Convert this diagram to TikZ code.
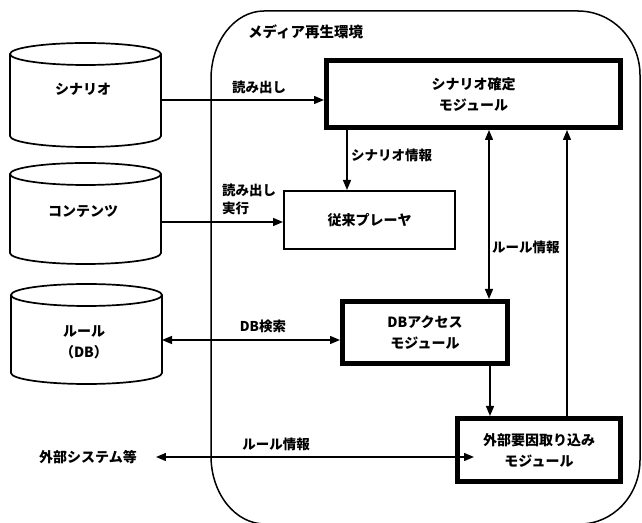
\documentclass[tikz,border=0pt]{standalone}
\usepackage{fontspec}
\setmainfont{Noto Sans CJK JP}
\usetikzlibrary{arrows.meta}
\begin{document}
\begin{tikzpicture}[x=1pt,y=1pt,
  ln/.style={line width=1.4pt},
  arr/.style={ln,-{Triangle[length=10pt,width=8pt]}},
  dbl/.style={ln,{Triangle[length=10pt,width=8pt]}-{Triangle[length=10pt,width=8pt]}},
  cyl/.style={line width=1.7pt},
  lbl/.style={font=\fontsize{13.5}{18}\selectfont\bfseries, inner sep=0pt},
  boxtxt/.style={font=\fontsize{14}{21}\selectfont\bfseries, align=center},
  thickbox/.style={draw, line width=5pt, inner sep=0pt, boxtxt},
  thinbox/.style={draw, line width=2pt, inner sep=0pt, boxtxt}]
\useasboundingbox (0,0) rectangle (642,522);
\clip (0,0) rectangle (642,522);

% environment
\draw[line width=1.5pt] (211,443) -- (211,66)
  arc[start angle=180,end angle=270,x radius=54pt,y radius=68pt] -- (580,-2)
  arc[start angle=270,end angle=360,x radius=60pt,y radius=64pt] -- (640,447)
  arc[start angle=0,end angle=90,x radius=62pt,y radius=64pt] -- (264,511)
  arc[start angle=90,end angle=180,x radius=53pt,y radius=68pt] -- cycle;
\node[lbl, font=\fontsize{14.5}{18}\selectfont\bfseries, anchor=west] (envl) at (248,490) {メディア再生環境};

% cylinders
\draw[cyl] (85.5,468) ellipse[x radius=75.5pt,y radius=11pt];
\draw[cyl] (10,468) -- (10,386) arc[start angle=180,end angle=360,x radius=75.5pt,y radius=11pt] -- (161,468);
\node[boxtxt] (cs) at (83,433) {シナリオ};

\draw[cyl] (85.5,348) ellipse[x radius=75.5pt,y radius=11pt];
\draw[cyl] (10,348) -- (10,269) arc[start angle=180,end angle=360,x radius=75.5pt,y radius=11pt] -- (161,348);
\node[boxtxt] (cc) at (83,311) {コンテンツ};

\draw[cyl] (86.5,227) ellipse[x radius=75.5pt,y radius=11pt];
\draw[cyl] (11,227) -- (11,149) arc[start angle=180,end angle=360,x radius=75.5pt,y radius=11pt] -- (162,227);
\node[boxtxt] (cr) at (84,180) {ルール\\（DB）};

\coordinate (c1e) at (161,422);
\coordinate (c2e) at (161,300);
\coordinate (c3e) at (162,182);

% boxes
\node[thickbox, minimum width=294pt, minimum height=67pt] (sc) at (473.5,428) {シナリオ確定\\モジュール};
\node[thinbox, minimum width=171pt, minimum height=58pt] (jp) at (369.5,302) {従来プレーヤ};
\node[thickbox, minimum width=165pt, minimum height=62pt] (db) at (425,189.5) {DBアクセス\\モジュール};
\node[thickbox, minimum width=163pt, minimum height=63pt] (ext) at (539,72) {外部要因取り込み\\モジュール};
\node[boxtxt, inner sep=0pt] (sys) at (88,65) {外部システム等};

\coordinate (v4) at (347,0);
\coordinate (v1) at (489,0);
\coordinate (v2) at (490,0);
\coordinate (v3) at (567,0);

% connectors
\draw[arr] (c1e) -- (c1e -| sc.west);
\node[lbl] (l1) at (259,435) {読み出し};

\draw[arr] (c2e) -- (c2e -| jp.west);
\node[lbl, align=left, anchor=north west, font=\fontsize{13.5}{18}\selectfont\bfseries] (l2) at (222,338) {読み出し\\実行};

\draw[arr] (v4 |- sc.south) -- (v4 |- jp.north);
\node[lbl, anchor=west] (l3) at (351,367) {シナリオ情報};

\draw[dbl] (v1 |- sc.south) -- (v1 |- db.north);
\node[lbl, anchor=west] (l4) at (492,275) {ルール情報};

\draw[dbl] (c3e) -- (c3e -| db.west);
\node[lbl] (l5) at (263,196) {DB検索};

\draw[arr] (v2 |- db.south) -- (v2 |- ext.north);
\draw[arr] (v3 |- ext.north) -- (v3 |- sc.south);

\draw[dbl] ([xshift=19pt]sys.east) -- ([xshift=19pt]sys.east -| ext.west);
\node[lbl] (l6) at (276,78) {ルール情報};
\end{tikzpicture}
\end{document}
